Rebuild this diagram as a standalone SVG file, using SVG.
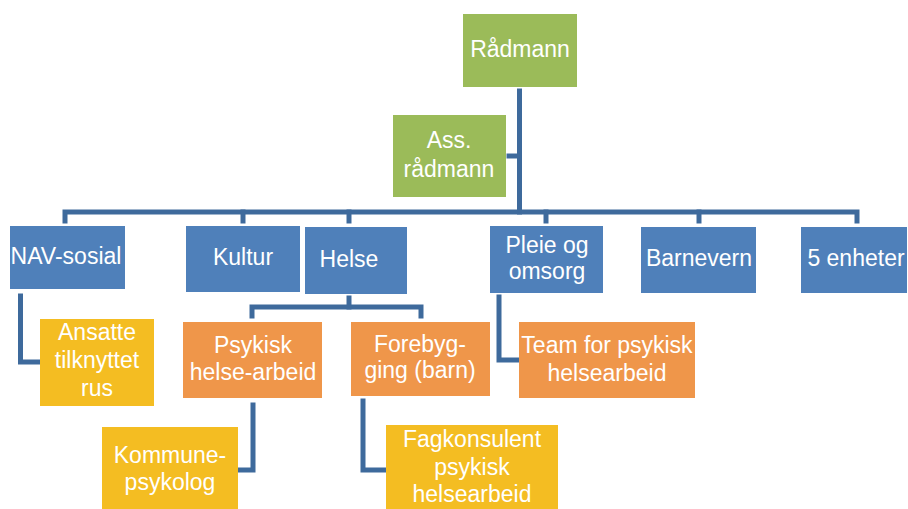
<svg xmlns="http://www.w3.org/2000/svg" width="908" height="509" viewBox="0 0 908 509">
  <style>
    .lvl0 { fill: #9BBB59; }
    .lvl1 { fill: #4F80BA; }
    .lvl2 { fill: #EF964A; }
    .lvl3 { fill: #F4BD22; }
    text { font-family: "Liberation Sans", Arial, sans-serif; font-size: 23px; fill: #FFFFFF; text-anchor: middle; }
    .conn { fill: none; stroke: #3E6A9C; stroke-width: 5; stroke-linejoin: miter; stroke-linecap: square; }
  </style>
  <rect width="908" height="509" fill="#FFFFFF"/>

  <g id="connectors">
    <!-- trunk from top node down to the main bar -->
    <path class="conn" d="M519.5 91 V212"/>
    <path class="conn" d="M509 156 H517"/>
    <!-- main horizontal bar with drops -->
    <path class="conn" d="M65 221 V212 H857 V221"/>
    <path class="conn" d="M243 212 V221"/>
    <path class="conn" d="M349 212 V221"/>
    <path class="conn" d="M546 212 V221"/>
    <path class="conn" d="M699 212 V221"/>
    <!-- Helse to its two children -->
    <path class="conn" d="M349 298 V307"/>
    <path class="conn" d="M252 316 V307 H421 V316"/>
    <!-- side branches -->
    <path class="conn" d="M20.5 296 V362 H38"/>
    <path class="conn" d="M499 297 V360 H517"/>
    <path class="conn" d="M253 405 V470 H240"/>
    <path class="conn" d="M363 401 V470 H384"/>
  </g>

  <g id="radmann">
    <rect class="lvl0" x="463" y="14" width="114" height="73"/>
    <text x="520" y="57">Rådmann</text>
  </g>
  <g id="ass-radmann">
    <rect class="lvl0" x="393" y="115" width="113" height="82"/>
    <text x="449" y="148">Ass.</text>
    <text x="449" y="177">rådmann</text>
  </g>

  <g id="nav-sosial">
    <rect class="lvl1" x="10" y="226" width="115" height="63"/>
    <text x="66" y="264">NAV-sosial</text>
  </g>
  <g id="kultur">
    <rect class="lvl1" x="186" y="226" width="114" height="66"/>
    <text x="243" y="265">Kultur</text>
  </g>
  <g id="helse">
    <rect class="lvl1" x="305" y="227" width="102" height="67"/>
    <text x="349" y="267">Helse</text>
  </g>
  <g id="pleie-omsorg">
    <rect class="lvl1" x="490" y="226" width="113" height="67"/>
    <text x="547" y="253">Pleie og</text>
    <text x="547" y="279">omsorg</text>
  </g>
  <g id="barnevern">
    <rect class="lvl1" x="641" y="227" width="115" height="66"/>
    <text x="699" y="266">Barnevern</text>
  </g>
  <g id="fem-enheter">
    <rect class="lvl1" x="801" y="227" width="106" height="66"/>
    <text x="856" y="266">5 enheter</text>
  </g>

  <g id="ansatte-rus">
    <rect class="lvl3" x="40" y="319" width="114" height="87"/>
    <text x="97" y="340">Ansatte</text>
    <text x="97" y="368">tilknyttet</text>
    <text x="97" y="396">rus</text>
  </g>
  <g id="psykisk-helsearbeid">
    <rect class="lvl2" x="183" y="322" width="139" height="76"/>
    <text x="253" y="353">Psykisk</text>
    <text x="253" y="380">helse-arbeid</text>
  </g>
  <g id="forebygging">
    <rect class="lvl2" x="351" y="322" width="139" height="74"/>
    <text x="420" y="352">Forebyg-</text>
    <text x="420" y="378">ging (barn)</text>
  </g>
  <g id="team-psykisk">
    <rect class="lvl2" x="519" y="322" width="176" height="76"/>
    <text x="607" y="353">Team for psykisk</text>
    <text x="607" y="381">helsearbeid</text>
  </g>
  <g id="kommunepsykolog">
    <rect class="lvl3" x="102" y="427" width="136" height="82"/>
    <text x="170" y="463">Kommune-</text>
    <text x="170" y="490">psykolog</text>
  </g>
  <g id="fagkonsulent">
    <rect class="lvl3" x="386" y="425" width="172" height="84"/>
    <text x="472" y="447">Fagkonsulent</text>
    <text x="472" y="475">psykisk</text>
    <text x="472" y="502">helsearbeid</text>
  </g>
</svg>
